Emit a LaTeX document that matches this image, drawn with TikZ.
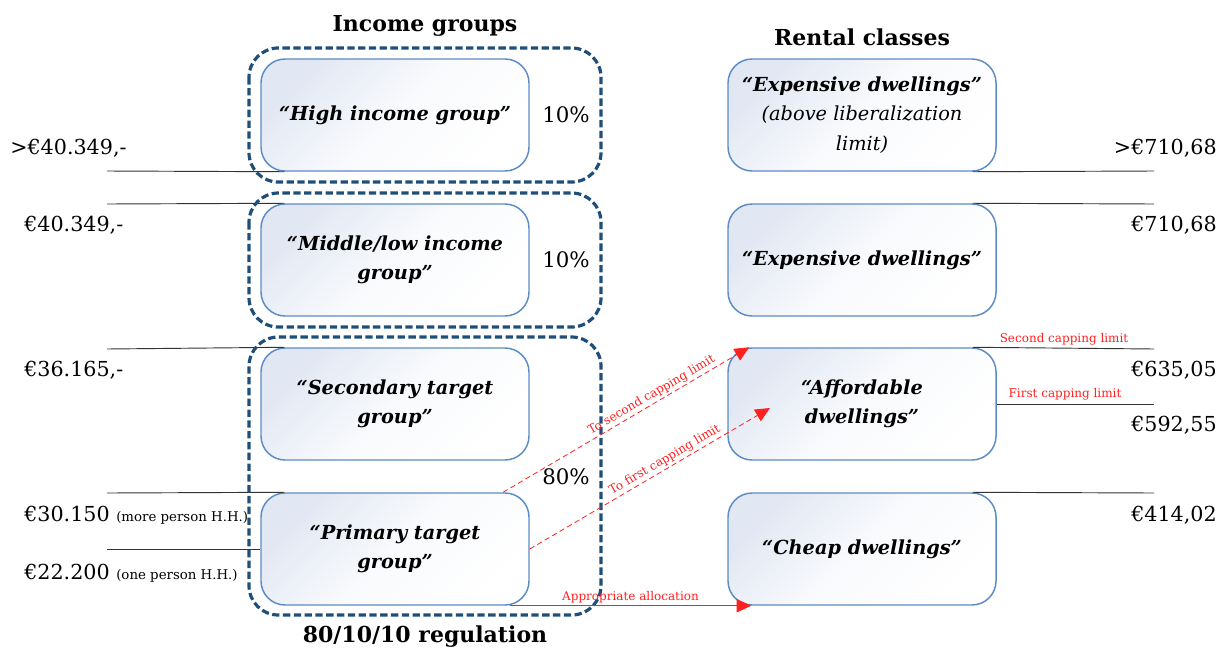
\documentclass[tikz,border=0pt]{standalone}
\usepackage{fontspec}
\setmainfont{DejaVu Serif}
\usetikzlibrary{arrows.meta}

\definecolor{boxblue}{HTML}{5B8CC4}
\definecolor{boxtint}{HTML}{E1E7F3}
\definecolor{grpblue}{HTML}{1F4E79}
\definecolor{limred}{HTML}{FF2020}
\newcommand\hhsize{\fontsize{10}{12}\selectfont}

\begin{document}
\begin{tikzpicture}[x=0.75pt,y=-0.75pt,
  cls/.style={draw=boxblue, line width=1.1pt, rounded corners=18pt,
    minimum width=201pt, minimum height=84pt, inner sep=2pt,
    top color=boxtint, bottom color=white, middle color=white!80!boxtint, shading angle=45,
    align=center, font=\fontsize{14.5}{22}\selectfont\bfseries\itshape},
  grp/.style={draw=grpblue, line width=2.4pt, dash pattern=on 5.5pt off 2.6pt,
    rounded corners=22pt},
  lim/.style={draw=black!80, line width=0.7pt},
  title/.style={font=\fontsize{16.5}{20}\selectfont\bfseries},
  amount/.style={font=\fontsize{15.5}{18}\selectfont, inner sep=0pt},
  pct/.style={font=\fontsize{16}{18}\selectfont, inner sep=0pt},
  redlbl/.style={text=limred, font=\fontsize{9}{11}\selectfont, inner sep=1.5pt},
  move/.style={draw=limred, line width=0.6pt, -{Triangle[length=11pt,width=10pt]}},
]
\useasboundingbox (0,0) rectangle (1219,650);

% headings
\node[title] (hinc) at (425,26) {Income groups};
\node[title] (hrent) at (862,37) {Rental classes};
\node[title] (hreg) at (425,637) {80/10/10 regulation};

% income groups and rental classes
\node[cls] (hi) at (395,115) {“High income group”};
\node[cls] (mid) at (395,260) {“Middle/low income\\group”};
\node[cls] (sec) at (395,404) {“Secondary target\\group”};
\node[cls] (pri) at (395,549) {“Primary target\\group”};

\node[cls] (exp1) at (862,115) {“Expensive dwellings”\\{\mdseries(above liberalization}\\{\mdseries limit)}};
\node[cls] (exp2) at (862,260) {“Expensive dwellings”};
\node[cls] (aff) at (862,404) {“Affordable\\dwellings”};
\node[cls] (cheap) at (862,549) {“Cheap dwellings”};

% income limits
\draw[lim] (107,171) -- ([xshift=18pt]hi.south west);
\draw[lim] (107,204) -- ([xshift=18pt]mid.north west);
\draw[lim] (107,349) -- ([xshift=18pt]sec.north west);
\draw[lim] (107,493) -- ([xshift=18pt]pri.north west);
\draw[lim] (107,549) -- (pri.west);

% rent limits
\draw[lim] ([xshift=-18pt]exp1.south east) -- (1154,171);
\draw[lim] ([xshift=-18pt]exp2.north east) -- (1154,204);
\draw[lim] ([xshift=-18pt]aff.north east) -- (1154,349);
\draw[lim] (aff.east) -- (1154,404);
\draw[lim] ([xshift=-18pt]cheap.north east) -- (1154,493);

% 80/10/10 groups
\draw[grp] (249,48) rectangle (601,182);
\draw[grp] (249,193) rectangle (601,327);
\draw[grp] (249,337) rectangle (601,615);

\node[pct] (p1) at (566,115) {10\%};
\node[pct] (p2) at (566,260) {10\%};
\node[pct] (p3) at (566,477) {80\%};

% amounts
\node[amount, anchor=west] (a1) at (10,148) {>€40.349,-};
\node[amount, anchor=west] (a2) at (24,225) {€40.349,-};
\node[amount, anchor=west] (a3) at (24,370) {€36.165,-};
\node[amount, anchor=base west] (a4) at (24,521) {€30.150 {\hhsize(more person H.H.)}};
\node[amount, anchor=base west] (a5) at (24,579) {€22.200 {\hhsize(one person H.H.)}};

\node[amount, anchor=east] (r1) at (1217,148) {>€710,68};
\node[amount, anchor=east] (r2) at (1217,225) {€710,68};
\node[amount, anchor=east] (r3) at (1217,370) {€635,05};
\node[amount, anchor=east] (r4) at (1217,425) {€592,55};
\node[amount, anchor=east] (r5) at (1217,515) {€414,02};

\node[redlbl] (cap2) at (1064,339) {Second capping limit};
\node[redlbl] (cap1) at (1065,394) {First capping limit};

% allocation arrows
\draw[move, dash pattern=on 4pt off 2.5pt] ([xshift=-20pt]pri.north east) --
  node[redlbl, sloped, above, pos=0.62] {To second capping limit}
  ([xshift=16.5pt]aff.north west);
\draw[move, dash pattern=on 4pt off 2.5pt] (pri.east) --
  node[redlbl, sloped, above, pos=0.58] {To first capping limit}
  ([xshift=-69pt,yshift=-3pt]aff.center);
\draw[move] ([xshift=-15pt]pri.south east) --
  node[redlbl, above] {Appropriate allocation}
  ([xshift=18pt]cheap.south west);
\end{tikzpicture}
\end{document}
